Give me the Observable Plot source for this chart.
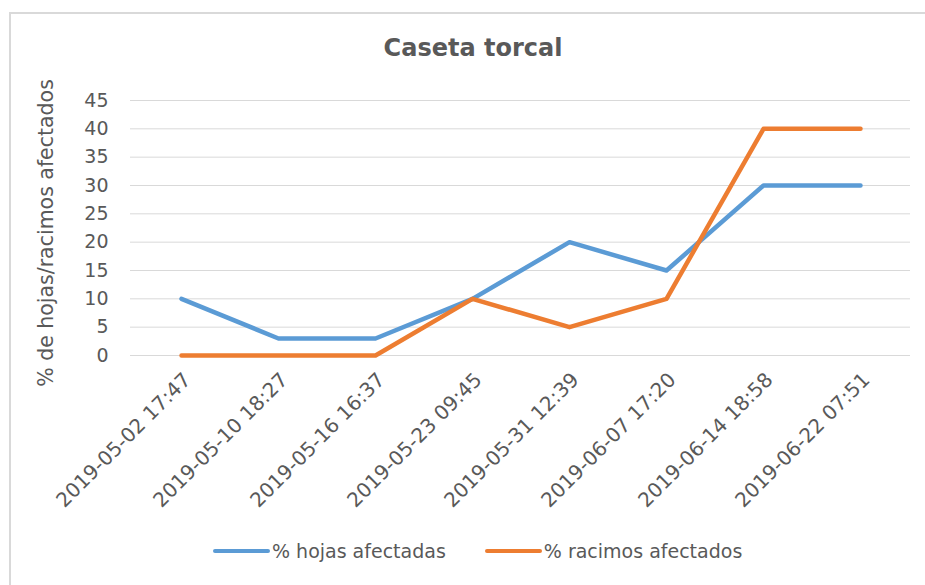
<!DOCTYPE html>
<html><head><meta charset="utf-8">
<script src="https://cdn.jsdelivr.net/npm/d3@7"></script>
<script src="https://cdn.jsdelivr.net/npm/@observablehq/plot@0.6"></script>
<style>
body{margin:0;background:#fff;}
#wrap{position:relative;width:925px;height:585px;overflow:hidden;font-family:"DejaVu Sans",sans-serif;color:#595959;background:#fff;}
#frame{position:absolute;left:9px;top:12px;width:930px;height:600px;border-left:2px solid #d9d9d9;border-top:2px solid #d9d9d9;}
#title{position:absolute;left:0;width:946px;top:33px;text-align:center;font-weight:bold;font-size:24px;line-height:30px;}
#chart{position:absolute;left:0;top:0;}
#legend{position:absolute;left:213px;top:538px;display:flex;align-items:center;font-size:19px;line-height:26px;}
.item{display:flex;align-items:center;margin-right:39px;}
.sw{display:inline-block;width:57px;height:4px;border-radius:2px;margin-right:2px;}
</style>
</head><body>
<div id="wrap">
  <div id="frame"></div>
  <div id="chart"></div>
  <div id="title"></div>
  <div id="legend"></div>
</div>
<script>
const chartTitle = "Caseta torcal";
const yLabel = "% de hojas/racimos afectados";
const dates = ["2019-05-02 17:47","2019-05-10 18:27","2019-05-16 16:37","2019-05-23 09:45","2019-05-31 12:39","2019-06-07 17:20","2019-06-14 18:58","2019-06-22 07:51"];
const hojas = [10, 3, 3, 10, 20, 15, 30, 30];
const racimos = [0, 0, 0, 10, 5, 10, 40, 40];
const yTicks = [0, 5, 10, 15, 20, 25, 30, 35, 40, 45];
const seriesNames = ["% hojas afectadas", "% racimos afectados"];
const seriesColors = ["#5B9BD5", "#ED7D31"];

const seriesValues = [hojas, racimos];
const rows = [];
seriesNames.forEach((s, k) => dates.forEach((d, i) => rows.push({date: d, series: s, value: seriesValues[k][i]})));

const plot = Plot.plot({
  width: 925, height: 585,
  marginTop: 100, marginBottom: 230, marginLeft: 130, marginRight: 15,
  style: {background: "transparent", fontFamily: "DejaVu Sans, sans-serif", color: "#595959"},
  x: {type: "point", domain: dates, padding: 0.5, axis: null},
  y: {domain: [0, 45], axis: null},
  color: {domain: seriesNames, range: seriesColors},
  marks: [
    Plot.gridY(yTicks, {stroke: "#d9d9d9", strokeOpacity: 1, strokeWidth: 1}),
    Plot.axisY(yTicks, {tickSize: 0, tickPadding: 22, fontSize: 19, label: null, fill: "#595959"}),
    Plot.text(dates, {x: d => d, frameAnchor: "bottom", rotate: -45, textAnchor: "end", lineAnchor: "middle", dx: 6, dy: 21, fontSize: 20, fill: "#595959"}),
    Plot.text([yLabel], {frameAnchor: "left", rotate: -90, textAnchor: "middle", lineAnchor: "middle", dx: -84, dy: 5, fontSize: 20.5, fill: "#595959"}),
    Plot.line(rows, {x: "date", y: "value", z: "series", stroke: "series", strokeWidth: 4.5, strokeLinejoin: "round", strokeLinecap: "round"})
  ]
});
document.getElementById("chart").appendChild(plot);
document.getElementById("title").textContent = chartTitle;
const leg = document.getElementById("legend");
seriesNames.forEach((s, k) => {
  const it = document.createElement("div"); it.className = "item";
  const sw = document.createElement("span"); sw.className = "sw"; sw.style.background = seriesColors[k];
  const tx = document.createElement("span"); tx.textContent = s;
  it.appendChild(sw); it.appendChild(tx); leg.appendChild(it);
});
</script>
</body></html>
